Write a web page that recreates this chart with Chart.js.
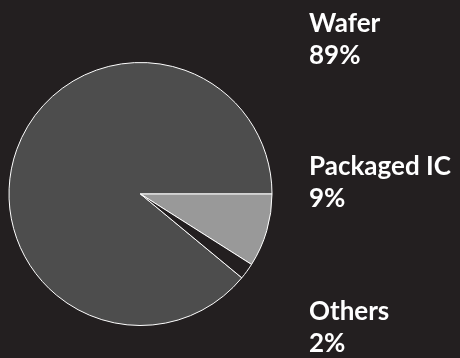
<!DOCTYPE html>
<html>
<head>
<meta charset="utf-8">
<script src="https://cdn.jsdelivr.net/npm/chart.js@4"></script>
<style>
  html, body { margin: 0; padding: 0; background: #231f20; }
  #wrap { width: 460px; height: 358px; position: relative; }
</style>
</head>
<body>
<div id="wrap"><canvas id="pieChart"></canvas></div>
<script>
'use strict';

const labels = ['Wafer', 'Packaged IC', 'Others'];
const shares = [89, 9, 2];
const sliceColors = ['#4d4d4d', '#999999', '#231f20'];

// right-hand labels: name on one line, percentage under it
const sideLabels = {
    id: 'sideLabels',
    afterDraw(chart, args, opts) {
        const ctx = chart.ctx;
        ctx.save();
        ctx.fillStyle = '#ffffff';
        ctx.font = 'bold 26px Lato';
        ctx.textBaseline = 'alphabetic';
        ctx.textAlign = 'left';
        chart.data.labels.forEach((name, i) => {
            const y = opts.top[i];
            ctx.fillText(name, opts.x, y);
            ctx.fillText(chart.data.datasets[0].data[i] + '%', opts.x, y + opts.lineGap);
        });
        ctx.restore();
    }
};

const ctx = document.getElementById('pieChart').getContext('2d');
new Chart(ctx, {
    type: 'pie',
    data: {
        labels: labels,
        datasets: [{
            data: shares,
            backgroundColor: sliceColors,
            borderColor: '#ffffff',
            borderWidth: 1
        }]
    },
    options: {
        responsive: true,
        maintainAspectRatio: false,
        animation: false,
        rotation: 129.6,
        layout: { padding: { left: 8, right: 187, top: 62, bottom: 32 } },
        plugins: {
            legend: { display: false },
            tooltip: { enabled: false },
            sideLabels: { x: 309, top: [32, 175, 320], lineGap: 32 }
        }
    },
    plugins: [sideLabels]
});
</script>
</body>
</html>
